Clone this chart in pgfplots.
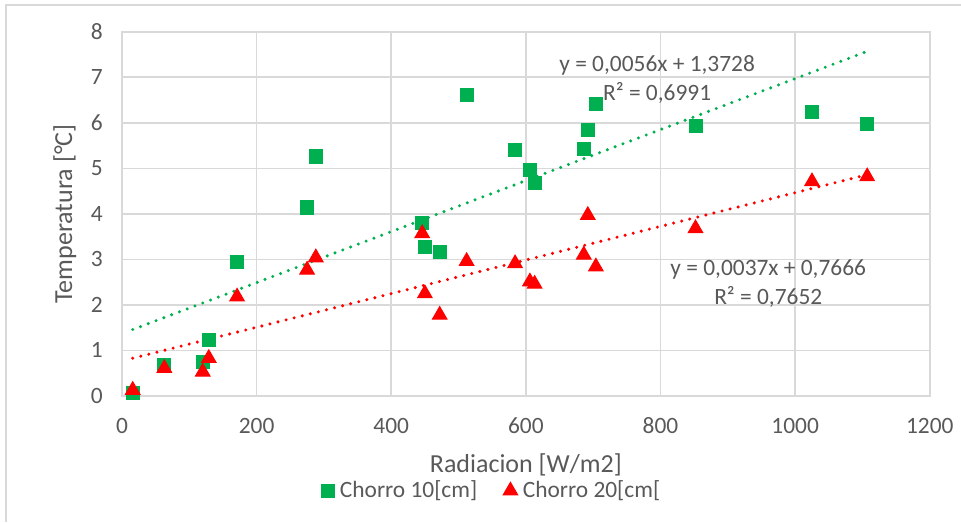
\documentclass[border=0pt]{standalone}
\usepackage{fontspec}
\setmainfont{Carlito}
\usepackage{pgfplots}
\pgfplotsset{compat=1.18}
\definecolor{xlgreen}{HTML}{00B050}
\definecolor{xlred}{HTML}{FF0000}
\definecolor{xlgrid}{HTML}{D9D9D9}
\definecolor{xltext}{HTML}{595959}
\begin{document}
\begin{tikzpicture}
\useasboundingbox (-46.9pt,-48.5pt) rectangle (322.7pt,152.3pt);
\draw[xlgrid, line width=0.5pt] (-44.6pt,-48.5pt) -- (-44.6pt,150.4pt) -- (322.7pt,150.4pt);
\begin{axis}[
  at={(0,0)}, anchor=south west,
  scale only axis, width=310.7pt, height=140.1pt,
  xmin=0, xmax=1200, ymin=0, ymax=8,
  xtick={0,200,...,1200}, ytick={0,1,...,8},
  grid=major, major grid style={xlgrid, line width=0.6pt},
  axis line style={xlgrid, line width=0.6pt},
  tick style={draw=none},
  ticklabel style={font=\fontsize{9}{11}\selectfont, text=xltext},
  xticklabel style={yshift=-4.9pt},
  yticklabel style={xshift=-3.9pt},
  /pgf/number format/assume math mode=true,
  /pgf/number format/1000 sep={},
  xlabel={Radiacion [W/m2]}, ylabel={Temperatura [°C]},
  label style={font=\fontsize{10}{12}\selectfont, text=xltext},
  xlabel style={at={(axis description cs:0.5,-0.188)}, anchor=center},
  ylabel style={at={(axis description cs:-0.0708,0.5)}, anchor=center},
  legend style={at={(axis description cs:0.46,-0.26)}, anchor=center, draw=none, fill=none,
    font=\fontsize{9}{10}\selectfont, text=xltext, legend columns=2, inner sep=1pt,
    /tikz/every even column/.append style={column sep=8pt}},
  legend cell align=left,
  legend image code/.code={\draw[#1] plot coordinates {(0.12cm,0cm)};},
  clip=false,
]
\addplot[only marks, mark=square*, mark size=2.5pt, draw=xlgreen, fill=xlgreen] coordinates {
(16,0.07) (63,0.68) (120,0.75) (129,1.22) (171,2.94) (275,4.14) (288,5.26)
(446,3.81) (450,3.28) (472,3.16) (512,6.62) (584,5.40) (606,4.97) (613,4.67)
(686,5.43) (692,5.84) (704,6.41) (852,5.93) (1025,6.24) (1107,5.98)};
\addlegendentry{Chorro 10[cm]}
\addplot[only marks, mark=triangle*, mark size=3.2pt, draw=xlred, fill=xlred] coordinates {
(16,0.13) (63,0.61) (120,0.53) (129,0.83) (171,2.18) (275,2.77) (288,3.04)
(446,3.57) (450,2.25) (472,1.78) (512,2.96) (584,2.91) (606,2.51) (613,2.46)
(686,3.10) (692,3.97) (704,2.84) (852,3.68) (1025,4.71) (1107,4.82)};
\addlegendentry{Chorro 20[cm[}
\addplot[xlgreen, line width=1.3pt, line cap=round, dash pattern=on 0pt off 3.2pt, forget plot] coordinates {(16,1.46) (1107,7.57)};
\addplot[xlred, line width=1.3pt, line cap=round, dash pattern=on 0pt off 3.2pt, forget plot] coordinates {(16,0.83) (1107,4.86)};
\node[align=center, text=xltext, font=\fontsize{9}{11.2}\selectfont] at (axis cs:795,6.96) {y = 0,0056x + 1,3728\\R² = 0,6991};
\node[align=center, text=xltext, font=\fontsize{9}{11.2}\selectfont] at (axis cs:960,2.46) {y = 0,0037x + 0,7666\\R² = 0,7652};
\end{axis}
\end{tikzpicture}
\end{document}
